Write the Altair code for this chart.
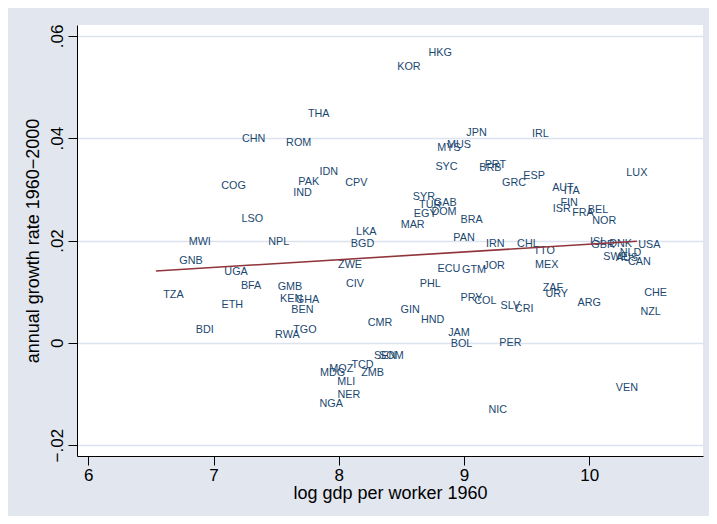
import altair as alt
import pandas as pd

# Country codes, log GDP per worker 1960, annual growth rate 1960-2000
codes = ["THA","CHN","ROM","IDN","PAK","CPV","COG","IND","LSO","HKG","KOR","JPN","IRL",
         "MUS","MYS","SYC","PRT","BRB","ESP","LUX","GRC","AUT","ITA","SYR","GAB","TUR",
         "FIN","ISR","BEL","FRA","DOM","EGY","BRA","NOR","MAR","PAN","IRN","CHL","TTO",
         "ISL","GBR","DNK","USA","NLD","SWE","AUS","CAN","ECU","GTM","JOR","MEX","PHL",
         "ZAF","URY","CHE","PRY","COL","ARG","SLV","CRI","GIN","NZL","HND","JAM","BOL",
         "PER","LKA","MWI","NPL","BGD","GNB","UGA","ZWE","BFA","GMB","CIV","TZA","KEN",
         "GHA","ETH","BEN","CMR","BDI","TGO","RWA","SEN","SOM","MOZ","TCD","MDG","ZMB",
         "MLI","NER","NGA","VEN","NIC"]
log_gdp = [7.84,7.32,7.68,7.92,7.76,8.14,7.16,7.71,7.31,8.81,8.56,9.10,9.61,
           8.96,8.88,8.86,9.25,9.21,9.56,10.38,9.40,9.79,9.86,8.68,8.85,8.73,
           9.84,9.78,10.07,9.95,8.84,8.69,9.06,10.12,8.59,9.00,9.25,9.51,9.64,
           10.07,10.11,10.25,10.48,10.33,10.21,10.30,10.40,8.88,9.08,9.24,9.66,8.73,
           9.71,9.74,10.53,9.06,9.17,10.00,9.37,9.48,8.57,10.49,8.75,8.96,8.98,
           9.37,8.22,6.89,7.52,8.19,6.82,7.18,8.09,7.30,7.61,8.13,6.68,7.62,
           7.75,7.15,7.71,8.33,6.93,7.73,7.59,8.37,8.42,8.02,8.19,7.95,8.27,
           8.06,8.08,7.94,10.30,9.27]
growth = [0.0447,0.0398,0.0390,0.0333,0.0315,0.0312,0.0307,0.0292,0.0242,0.0566,0.0539,0.0410,0.0409,
          0.0387,0.0381,0.0344,0.0347,0.0341,0.0327,0.0332,0.0312,0.0302,0.0297,0.0285,0.0273,0.0269,
          0.0274,0.0262,0.0260,0.0253,0.0256,0.0251,0.0240,0.0239,0.0230,0.0205,0.0193,0.0193,0.0180,
          0.0198,0.0191,0.0193,0.0191,0.0176,0.0167,0.0166,0.0158,0.0144,0.0143,0.0150,0.0153,0.0115,
          0.0108,0.0095,0.0097,0.0088,0.0082,0.0077,0.0072,0.0066,0.0064,0.0061,0.0045,0.0020,-0.0002,
          0.0000,0.0217,0.0197,0.0197,0.0193,0.0160,0.0139,0.0152,0.0112,0.0109,0.0115,0.0094,0.0085,
          0.0083,0.0073,0.0064,0.0038,0.0026,0.0026,0.0015,-0.0025,-0.0025,-0.0051,-0.0043,-0.0060,-0.0060,
          -0.0076,-0.0103,-0.0120,-0.0089,-0.0131]

# Linear fit line endpoints
fit_x = [6.54, 10.38]
fit_y = [0.01404, 0.01984]

x_ticks = [6, 7, 8, 9, 10]
y_ticks = [-0.02, 0, 0.02, 0.04, 0.06]

df = pd.DataFrame({"code": codes, "x": log_gdp, "y": growth})
fit = pd.DataFrame({"x": fit_x, "y": fit_y})

FONT = "Liberation Sans"

xscale = alt.Scale(domain=[5.91, 10.908], nice=False, zero=False)
yscale = alt.Scale(domain=[-0.02213, 0.06213], nice=False, zero=False)

xaxis = alt.Axis(values=x_ticks, format="d", title="log gdp per worker 1960", grid=False,
                 domainColor="black", tickColor="black", tickSize=9, domainWidth=1, tickWidth=1,
                 labelFont=FONT, labelFontSize=17, labelColor="black", labelPadding=2,
                 titleFont=FONT, titleFontSize=18, titleFontWeight="normal", titleColor="black",
                 titlePadding=1)
yaxis = alt.Axis(values=y_ticks, title="annual growth rate 1960\u22122000",
                 labelExpr="datum.value == 0 ? '0' : replace(format(datum.value, '.2f'), '0.', '.')",
                 grid=True, gridColor="#DCE2EE", gridWidth=1.3,
                 domainColor="black", tickColor="black", tickSize=9, domainWidth=1, tickWidth=1,
                 labelFont=FONT, labelFontSize=17, labelColor="black", labelAngle=-90,
                 labelAlign="center", labelBaseline="alphabetic", labelPadding=6,
                 titleFont=FONT, titleFontSize=18, titleFontWeight="normal", titleColor="black",
                 titlePadding=6)

labels = alt.Chart(df).mark_text(font=FONT, fontSize=10.8, color="#1a476f",
                                 align="center", baseline="middle").encode(
    x=alt.X("x:Q", scale=xscale, axis=xaxis),
    y=alt.Y("y:Q", scale=yscale, axis=yaxis),
    text="code:N",
)

line = alt.Chart(fit).mark_line(color="#90353B", strokeWidth=1.6).encode(
    x=alt.X("x:Q", scale=xscale, axis=xaxis),
    y=alt.Y("y:Q", scale=yscale, axis=yaxis),
)

chart = alt.layer(labels, line).properties(
    width=626, height=431,
    autosize=alt.AutoSizeParams(type="none"),
    padding={"left": 69, "top": 17, "right": 6, "bottom": 60},
    background="#E1E6EF",
).configure_view(fill="white", stroke=None)

chart.save("out.html", embed_options={"renderer": "svg", "actions": False})
